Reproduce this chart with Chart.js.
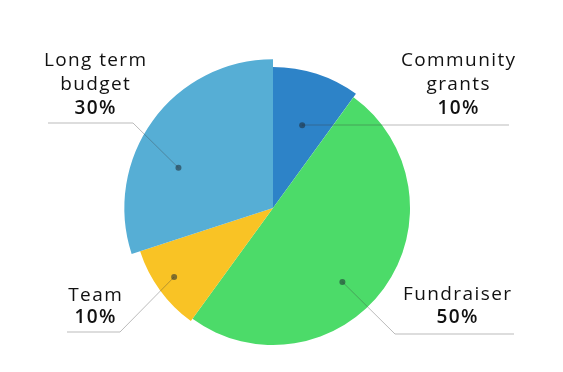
<!DOCTYPE html>
<html>
<head>
<meta charset="utf-8">
<script src="https://cdn.jsdelivr.net/npm/chart.js@4.4.1/dist/chart.umd.min.js"></script>
<style>
  html, body { margin: 0; padding: 0; background: #fff; }
  #wrap { width: 563px; height: 372px; }
</style>
</head>
<body>
<div id="wrap"><canvas id="budget-pie" width="563" height="372"></canvas></div>
<script>
// budget split
const categories = ['Community grants', 'Fundraiser', 'Team', 'Long term budget'];
const shares = [10, 50, 10, 30];
const labelLines = [['Community', 'grants'], ['Fundraiser'], ['Team'], ['Long term', 'budget']];

const sliceColors = ['#2d83c8', '#4cdb69', '#f9c325', '#56aed5'];
// a slice can stick out past the others
const radiusScale = [1.03, 1, 1.02, 1.085];

// where each callout sits, relative to pie centre (px)
const callouts = [
  { at: 0.54, r: 0.64, elbow: [29, -83], end: 236, text: [185, -147], lh: 24 },
  { at: 0.56, r: 0.74, elbow: [122, 126], end: 241, text: [184, 87], lh: 23 },
  { at: 0.53, r: 0.88, elbow: [-153, 124], end: -206, text: [-178, 88], lh: 22 },
  { at: 0.38, r: 0.75, elbow: [-140, -85], end: -225, text: [-178, -147], lh: 24 },
];

const FONT = '"Open Sans", Lato, sans-serif';
const SPACING = 1.4;

const bigSlices = {
  id: 'bigSlices',
  afterDatasetsUpdate(chart) {
    const arcs = chart.getDatasetMeta(0).data;
    arcs.forEach((arc, i) => {
      if (arc._baseR === undefined) arc._baseR = arc.outerRadius;
      arc.outerRadius = arc._baseR * radiusScale[i];
    });
  },
};

const callout = {
  id: 'callout',
  afterDatasetsDraw(chart) {
    const { ctx } = chart;
    const arcs = chart.getDatasetMeta(0).data;
    const total = shares.reduce((a, b) => a + b, 0);
    arcs.forEach((arc, i) => {
      const c = callouts[i];
      const cx = arc.x, cy = arc.y;
      const base = arc._baseR;
      const a = arc.startAngle + (arc.endAngle - arc.startAngle) * c.at;
      const px = cx + Math.cos(a) * base * c.r;
      const py = cy + Math.sin(a) * base * c.r;
      const ex = cx + c.elbow[0], ey = cy + c.elbow[1];

      ctx.save();
      ctx.strokeStyle = 'rgba(60,60,60,0.35)';
      ctx.lineWidth = 1;
      ctx.beginPath();
      ctx.moveTo(px, py);
      ctx.lineTo(ex, ey);
      ctx.lineTo(cx + c.end, ey);
      ctx.stroke();

      ctx.fillStyle = 'rgba(30,40,50,0.55)';
      ctx.beginPath();
      ctx.arc(px, py, 3, 0, Math.PI * 2);
      ctx.fill();

      ctx.fillStyle = '#111';
      ctx.textAlign = 'center';
      ctx.textBaseline = 'middle';
      ctx.letterSpacing = SPACING + 'px';
      const tx = cx + c.text[0] + SPACING / 2;
      let ty = cy + c.text[1];
      ctx.font = '500 19px ' + FONT;
      labelLines[i].forEach((line) => {
        ctx.fillText(line, tx, ty);
        ty += c.lh;
      });
      ctx.font = '600 19px ' + FONT;
      ctx.fillText(Math.round(shares[i] / total * 100) + '%', tx, ty);
      ctx.restore();
    });
  },
};

new Chart(document.getElementById('budget-pie'), {
  type: 'pie',
  data: {
    labels: categories,
    datasets: [{
      data: shares,
      backgroundColor: sliceColors,
      borderWidth: 0,
      clip: false,
    }],
  },
  options: {
    responsive: false,
    animation: false,
    layout: { padding: { top: 71, bottom: 27, left: 0, right: 17 } },
    plugins: { legend: { display: false }, tooltip: { enabled: false } },
  },
  plugins: [bigSlices, callout],
});
</script>
</body>
</html>
